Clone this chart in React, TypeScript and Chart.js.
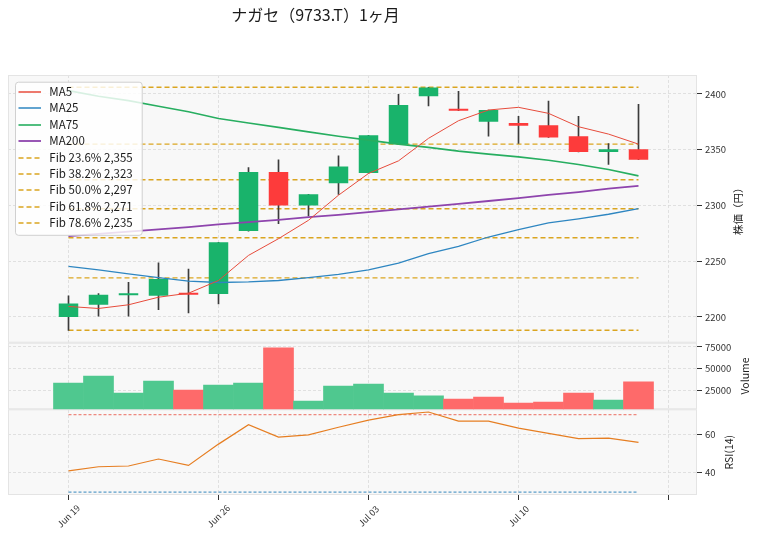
import { useEffect, useRef } from 'react';
import { Chart, registerables } from 'chart.js';

Chart.register(...registerables);

// ---------------- data ----------------
const TITLE = 'ナガセ（9733.T）1ヶ月';
const dates = ['Jun 19', 'Jun 20', 'Jun 23', 'Jun 24', 'Jun 25', 'Jun 26', 'Jun 27', 'Jun 30', 'Jul 01', 'Jul 02',
  'Jul 03', 'Jul 04', 'Jul 07', 'Jul 08', 'Jul 09', 'Jul 10', 'Jul 11', 'Jul 14', 'Jul 15', 'Jul 16'];
const tickIndices = [0, 5, 10, 15, 20];

const opens = [2200, 2211, 2219.5, 2219, 2220.6, 2220.5, 2277, 2330, 2300, 2320,
  2329, 2355, 2398, 2386, 2375, 2374, 2372, 2362, 2348, 2350.5];
const closes = [2212, 2220, 2221, 2234, 2219.8, 2267, 2330, 2300, 2310, 2335,
  2363, 2390, 2405.7, 2385, 2385.5, 2371.5, 2361, 2348, 2350.5, 2341];
const highs = [2219, 2221, 2231, 2248.5, 2243, 2267, 2334, 2341, 2310, 2344.5,
  2363, 2399.7, 2406, 2402.4, 2385.5, 2380, 2393.7, 2380, 2355.6, 2390.7];
const lows = [2188, 2200.6, 2200.6, 2206.6, 2203.7, 2211.7, 2277, 2283.7, 2290.6, 2310,
  2329, 2355, 2389.2, 2385, 2362.2, 2355.6, 2361, 2348, 2336.8, 2341];

const volumes = [33800, 41800, 22400, 36100, 25800, 31500, 33800, 73900, 13200, 30400,
  32700, 22400, 19000, 15500, 17800, 10900, 12100, 22400, 14400, 35000];
const volumeUp = [true, true, true, true, false, true, true, false, true, true,
  true, true, true, false, false, false, false, false, true, false];

const ma5 = [2209.4, 2207.6, 2210.9, 2217.7, 2221.3, 2232.7, 2255.2, 2270.2, 2286.7, 2309.2,
  2328.7, 2340, 2360.2, 2376, 2385.6, 2388, 2382.6, 2370.6, 2364, 2355];
const ma25 = [2245.3, 2242.3, 2238.7, 2235.2, 2232.1, 2230.9, 2231.5, 2232.7, 2235.2, 2238.1,
  2242.3, 2248.3, 2256.7, 2263.3, 2271.7, 2278.3, 2284.3, 2287.9, 2292.1, 2297.2];
const ma75 = [2403, 2398, 2394, 2389, 2384, 2378, 2374, 2370, 2366, 2362,
  2358.6, 2355, 2352.1, 2348.7, 2346, 2343.6, 2340.6, 2336.8, 2332.2, 2326.5];
const ma200 = [2272.5, 2274.5, 2276.5, 2278.5, 2280.5, 2283, 2285, 2287, 2289.5, 2291.5,
  2294, 2296.5, 2299, 2301.5, 2304, 2306.5, 2309.5, 2312, 2315, 2317.5];

const rsi14 = [41.0, 43.1, 43.5, 47.1, 43.8, 54.8, 64.8, 58.4, 59.6, 63.5,
  67.2, 70.0, 71.4, 66.7, 66.7, 63.1, 60.4, 57.6, 57.9, 55.7];
const rsiUpper = 70;
const rsiLower = 30;

const fibRatios = [0, 23.6, 38.2, 50.0, 61.8, 78.6, 100];
const fibLevels = [2406, 2355, 2323, 2297, 2271, 2235, 2188];

const priceTicks = [2200, 2250, 2300, 2350, 2400];
const volumeTicks = [25000, 50000, 75000];
const rsiTicks = [40, 60];

const xRange = [-2.0167, 20.95];
const priceRange = [2176.9, 2417.0];
const volumeRange = [3720, 79900];
const rsiRange = [28.5, 72.8];

const axisTitles = { y: '株価（円）', yVol: 'Volume', yRsi: 'RSI(14)' };

// ---------------- styles ----------------
const FONT = '"Noto Sans CJK JP", "Noto Sans", sans-serif';
const UP = '#19b36b';
const DOWN = '#fd3b3b';
const VUP = '#4fc88f';
const VDOWN = '#fe6a6a';
const WICK = '#3c3c3c';
const GRID = '#d9d9d9';
const FIB = '#DAA520';

const xy = (arr: number[]) => arr.map((y, i) => ({ x: i, y }));
const lastIdx = dates.length - 1;

function buildDatasets() {
  const ds: any[] = [];
  const ma = [
    { label: 'MA5', data: ma5, color: '#e74c3c', w: 1 },
    { label: 'MA25', data: ma25, color: '#2e86c1', w: 1.3 },
    { label: 'MA75', data: ma75, color: '#27ae60', w: 1.6 },
    { label: 'MA200', data: ma200, color: '#8e44ad', w: 1.8 },
  ];
  for (const m of ma) {
    ds.push({
      type: 'line', label: m.label, showInLegend: true, data: xy(m.data), yAxisID: 'y',
      borderColor: m.color, borderWidth: m.w, pointRadius: 0, fill: false, tension: 0, order: 3,
    });
  }
  fibRatios.forEach((r, k) => {
    const lvl = fibLevels[k];
    ds.push({
      type: 'line',
      label: `Fib ${r.toFixed(1)}% ${lvl.toLocaleString('en-US')}`,
      showInLegend: r !== 0 && r !== 100,
      data: [{ x: 0, y: lvl }, { x: lastIdx, y: lvl }],
      yAxisID: 'y', borderColor: FIB, borderWidth: 1.4, borderDash: [5, 3],
      pointRadius: 0, fill: false, order: 12,
    });
  });
  ds.push({
    type: 'bar', label: 'wick', data: lows.map((l, i) => ({ x: i, y: [l, highs[i]] })),
    yAxisID: 'y', backgroundColor: WICK, barThickness: 1, grouped: false, borderWidth: 0, order: 10,
  });
  ds.push({
    type: 'bar', label: 'body', data: opens.map((o, i) => ({ x: i, y: [o, closes[i]] })),
    yAxisID: 'y', backgroundColor: opens.map((o, i) => (closes[i] >= o ? UP : DOWN)),
    grouped: false, barPercentage: 0.65, categoryPercentage: 1, minBarLength: 2, borderWidth: 0, order: 9,
  });
  ds.push({
    type: 'bar', label: 'Volume', data: xy(volumes), yAxisID: 'yVol',
    backgroundColor: volumeUp.map((u) => (u ? VUP : VDOWN)),
    grouped: false, barPercentage: 1, categoryPercentage: 1, borderWidth: 0, order: 9,
  });
  ds.push({
    type: 'line', label: 'RSI', data: xy(rsi14), yAxisID: 'yRsi',
    borderColor: '#e67e22', borderWidth: 1.2, pointRadius: 0, fill: false, order: 2,
  });
  ds.push({
    type: 'line', label: 'RSI70', data: [{ x: 0, y: rsiUpper }, { x: lastIdx, y: rsiUpper }], yAxisID: 'yRsi',
    borderColor: 'rgba(231,76,60,0.9)', borderWidth: 0.9, borderDash: [3, 2], pointRadius: 0, fill: false, order: 4,
  });
  ds.push({
    type: 'line', label: 'RSI30', data: [{ x: 0, y: rsiLower }, { x: lastIdx, y: rsiLower }], yAxisID: 'yRsi',
    borderColor: 'rgba(41,128,185,0.95)', borderWidth: 1, borderDash: [3, 2], pointRadius: 0, fill: false, order: 4,
  });
  return ds;
}

const panelPlugin = {
  id: 'panels',
  beforeDraw(chart: any) {
    const { ctx, chartArea: a } = chart;
    ctx.save();
    ctx.fillStyle = '#f8f8f8';
    ctx.fillRect(a.left, a.top, a.right - a.left, a.bottom - a.top);
    ctx.restore();
  },
  beforeDatasetsDraw(chart: any) {
    const { ctx, chartArea: a, scales } = chart;
    ctx.save();
    ctx.strokeStyle = '#e4e4e4';
    ctx.lineWidth = 1;
    for (const id of ['y', 'yVol', 'yRsi']) {
      const s = scales[id];
      ctx.strokeRect(a.left + 0.5, s.top + 0.5, a.right - a.left - 1, s.bottom - s.top - 1);
    }
    ctx.restore();
  },
};

const textPlugin = {
  id: 'texts',
  afterDraw(chart: any) {
    const { ctx, chartArea: a, scales } = chart;
    ctx.save();
    // title
    ctx.fillStyle = '#1a1a1a';
    ctx.font = `16px ${FONT}`;
    ctx.textAlign = 'center';
    ctx.textBaseline = 'middle';
    ctx.fillText(TITLE, 315.5, 15);

    // x tick labels (rotated, centred on tick)
    ctx.font = `9px ${FONT}`;
    ctx.fillStyle = '#333';
    for (const idx of tickIndices) {
      const label = dates[idx];
      if (!label) continue;
      const px = scales.x.getPixelForValue(idx);
      ctx.save();
      ctx.translate(px, a.bottom + 21);
      ctx.rotate(-Math.PI / 4);
      ctx.fillText(label, 0, 0);
      ctx.restore();
    }

    // y axis titles
    ctx.font = `10.5px ${FONT}`;
    ctx.fillStyle = '#222';
    const offs: Record<string, number> = { y: 41, yVol: 48, yRsi: 32 };
    for (const id of Object.keys(axisTitles)) {
      const s = scales[id];
      ctx.save();
      ctx.translate(a.right + offs[id], (s.top + s.bottom) / 2);
      ctx.rotate(-Math.PI / 2);
      ctx.fillText((axisTitles as any)[id], 0, 0);
      ctx.restore();
    }

    // legend
    const items = chart.data.datasets.filter((d: any) => d.showInLegend);
    const bx = a.left + 7;
    const by = a.top + 6.7;
    const bw = 126.7;
    const rowH = 16.45;
    const bh = 20 + rowH * (items.length - 1) + 1.5;
    ctx.beginPath();
    ctx.roundRect(bx + 0.5, by + 0.5, bw, bh, 3);
    ctx.fillStyle = 'rgba(255,255,255,0.82)';
    ctx.fill();
    ctx.strokeStyle = '#d0d0d0';
    ctx.lineWidth = 1;
    ctx.stroke();
    ctx.font = `11.5px ${FONT}`;
    ctx.textAlign = 'left';
    ctx.textBaseline = 'middle';
    items.forEach((d: any, i: number) => {
      const cy = Math.round(by + 10 + i * rowH);
      ctx.save();
      ctx.strokeStyle = d.borderColor;
      ctx.lineWidth = Math.max(1.5, d.borderWidth);
      ctx.setLineDash(d.borderDash || []);
      ctx.beginPath();
      ctx.moveTo(bx + 3.5, cy);
      ctx.lineTo(bx + 26, cy);
      ctx.stroke();
      ctx.restore();
      ctx.fillStyle = '#1a1a1a';
      ctx.fillText(d.label, bx + 34.3, cy);
    });
    ctx.restore();
  },
};

function yAxis(range: number[], tickVals: number[], weight: number) {
  return {
    type: 'linear',
    position: 'right',
    stack: 'panels',
    stackWeight: weight,
    min: range[0],
    max: range[1],
    offset: false,
    grid: { color: GRID, lineWidth: 0.8, drawTicks: true, tickLength: 5, tickColor: '#333', tickWidth: 1 },
    border: { display: false, dash: [3, 2] },
    ticks: {
      color: '#333', font: { family: FONT, size: 9.5 }, padding: 3,
      callback: (v: any) => String(v),
    },
    afterBuildTicks: (s: any) => { s.ticks = tickVals.map((v) => ({ value: v })); },
    afterFit: (s: any) => { s.width = 61; },
  };
}

export default function App() {
  const ref = useRef<HTMLCanvasElement>(null);
  useEffect(() => {
    const chart = new Chart(ref.current as HTMLCanvasElement, {
      type: 'bar',
      data: { datasets: buildDatasets() },
      options: {
        responsive: false,
        animation: false,
        devicePixelRatio: 1,
        layout: { padding: { top: 75, left: 8, right: 0, bottom: 37 } },
        plugins: { legend: { display: false }, tooltip: { enabled: false }, title: { display: false } },
        scales: {
          x: {
            type: 'linear', min: xRange[0], max: xRange[1], offset: false,
            grid: { offset: false, color: GRID, lineWidth: 0.8, drawTicks: true, tickLength: 5, tickColor: '#333', tickWidth: 1 },
            border: { display: false, dash: [3, 2] },
            ticks: { display: false },
            afterBuildTicks: (s: any) => { s.ticks = tickIndices.map((v) => ({ value: v })); },
          },
          y: yAxis(priceRange, priceTicks, 267.7),
          yVol: { axis: 'y', ...yAxis(volumeRange, volumeTicks, 66.6) },
          yRsi: { axis: 'y', ...yAxis(rsiRange, rsiTicks, 85.7) },
        },
      } as any,
      plugins: [panelPlugin, textPlugin],
    } as any);
    return () => chart.destroy();
  }, []);
  return (
    <div style={{ position: 'fixed', left: 0, top: 0, width: 758, height: 537, background: '#fff' }}>
      <canvas ref={ref} width={758} height={537} style={{ display: 'block', width: 758, height: 537 }} />
    </div>
  );
}
